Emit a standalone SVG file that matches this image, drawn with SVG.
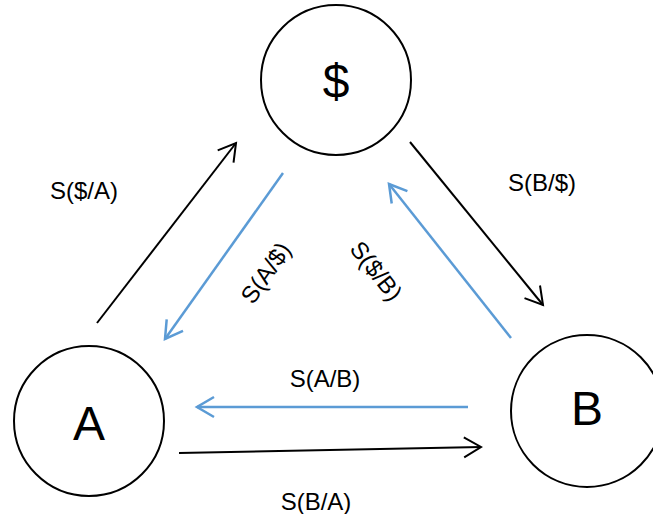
<svg xmlns="http://www.w3.org/2000/svg" width="653" height="514" viewBox="0 0 653 514">
<style>
.node{fill:#fff;stroke:#000;stroke-width:2}
.big{font-family:"Liberation Sans",Arial,sans-serif;font-size:48px;fill:#000;text-anchor:middle}
.lbl{font-family:"Liberation Sans",Arial,sans-serif;font-size:24px;fill:#000;text-anchor:middle}
.k{stroke:#000;stroke-width:2;fill:none}
.b{stroke:#5B9BD5;stroke-width:2.5;fill:none}
</style>
<defs>
<marker id="ak" markerUnits="userSpaceOnUse" markerWidth="30" markerHeight="30" refX="0" refY="0" viewBox="-20 -15 30 30" orient="auto"><path d="M-17,-10 L0,0 L-17,10" fill="none" stroke="#000" stroke-width="2"/></marker>
<marker id="ab" markerUnits="userSpaceOnUse" markerWidth="30" markerHeight="30" refX="0" refY="0" viewBox="-20 -15 30 30" orient="auto"><path d="M-17,-10 L0,0 L-17,10" fill="none" stroke="#5B9BD5" stroke-width="2.5"/></marker>
</defs>
<g id="node-dollar"><circle class="node" cx="336" cy="80" r="75"/><text class="big" x="336" y="98">$</text></g>
<g id="node-A"><circle class="node" cx="89" cy="421" r="75"/><text class="big" x="89" y="440">A</text></g>
<g id="node-B"><circle class="node" cx="587" cy="411" r="76"/><text class="big" x="587" y="425">B</text></g>
<g id="connectors">
<line class="k" x1="97" y1="323" x2="236" y2="143" marker-end="url(#ak)"/>
<line class="k" x1="410" y1="142" x2="543" y2="305" marker-end="url(#ak)"/>
<line class="b" x1="283" y1="173" x2="165" y2="339" marker-end="url(#ab)"/>
<line class="b" x1="511" y1="338" x2="389" y2="184" marker-end="url(#ab)"/>
<line class="b" x1="468" y1="407" x2="197" y2="407" marker-end="url(#ab)"/>
<line class="k" x1="179" y1="453" x2="481" y2="447" marker-end="url(#ak)"/>
</g>
<g id="labels">
<text class="lbl" x="84" y="199">S($/A)</text>
<text class="lbl" x="542" y="191">S(B/$)</text>
<text class="lbl" transform="translate(266,273) rotate(-55)" x="0" y="8">S(A/$)</text>
<text class="lbl" transform="translate(376,271) rotate(52)" x="0" y="8">S($/B)</text>
<text class="lbl" x="325" y="387">S(A/B)</text>
<text class="lbl" x="316" y="510">S(B/A)</text>
</g>
</svg>
